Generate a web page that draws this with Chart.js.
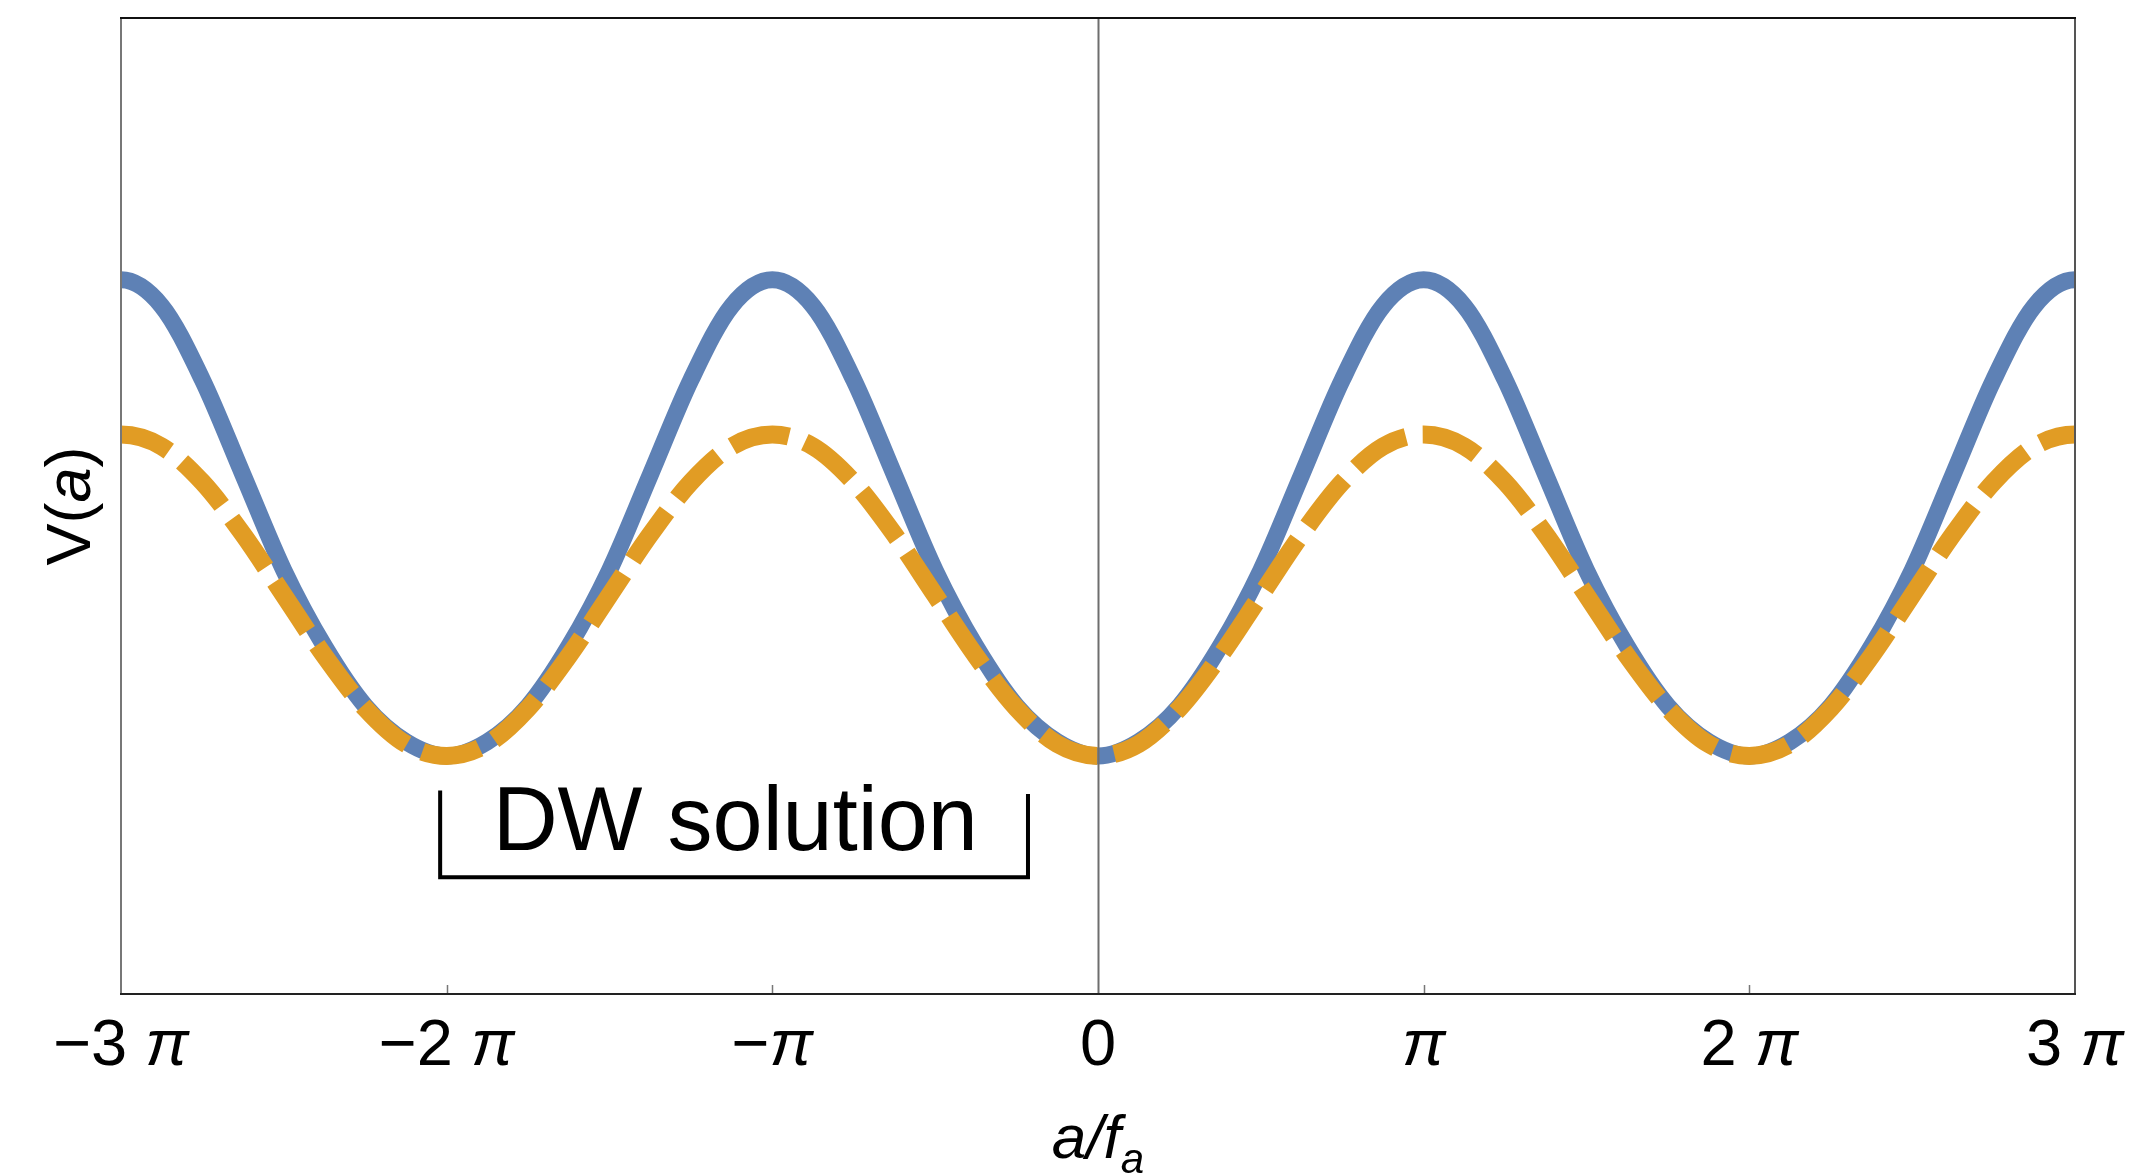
<!DOCTYPE html>
<html>
<head>
<meta charset="utf-8">
<script src="https://cdn.jsdelivr.net/npm/chart.js@4.4.1/dist/chart.umd.min.js"></script>
<style>
  html, body { margin: 0; padding: 0; background: #fff; }
  canvas { display: block; }
</style>
</head>
<body>
<canvas id="chart" width="2152" height="1174"></canvas>
<script>
// x positions in units of pi (one step past each edge so the ends stay flat, clipped away)
const xPi = [-3.125, -3, -2.875, -2.75, -2.625, -2.5, -2.375, -2.25, -2.125,
  -2, -1.875, -1.75, -1.625, -1.5, -1.375, -1.25, -1.125,
  -1, -0.875, -0.75, -0.625, -0.5, -0.375, -0.25, -0.125,
  0, 0.125, 0.25, 0.375, 0.5, 0.625, 0.75, 0.875,
  1, 1.125, 1.25, 1.375, 1.5, 1.625, 1.75, 1.875,
  2, 2.125, 2.25, 2.375, 2.5, 2.625, 2.75, 2.875, 3, 3.125];

// full potential (solid blue)
const vFull = [1.89, 2.0, 1.89, 1.58, 1.18, 0.78, 0.46, 0.21, 0.06,
  0, 0.06, 0.21, 0.46, 0.78, 1.18, 1.58, 1.89,
  2.0, 1.89, 1.58, 1.18, 0.78, 0.46, 0.21, 0.06,
  0, 0.06, 0.21, 0.46, 0.78, 1.18, 1.58, 1.89,
  2.0, 1.89, 1.58, 1.18, 0.78, 0.46, 0.21, 0.06,
  0, 0.06, 0.21, 0.46, 0.78, 1.18, 1.58, 1.89, 2.0, 1.89];

// approximate potential (dashed orange)
const vApprox = [1.30, 1.35, 1.30, 1.15, 0.93, 0.675, 0.42, 0.20, 0.05,
  0, 0.05, 0.20, 0.42, 0.675, 0.93, 1.15, 1.30,
  1.35, 1.30, 1.15, 0.93, 0.675, 0.42, 0.20, 0.05,
  0, 0.05, 0.20, 0.42, 0.675, 0.93, 1.15, 1.30,
  1.35, 1.30, 1.15, 0.93, 0.675, 0.42, 0.20, 0.05,
  0, 0.05, 0.20, 0.42, 0.675, 0.93, 1.15, 1.30, 1.35, 1.30];

const tickPi = [-3, -2, -1, 0, 1, 2, 3];
const tickLabels = ['\u22123 \u03c0', '\u22122 \u03c0', '\u2212\u03c0', '0', '\u03c0', '2 \u03c0', '3 \u03c0'];

const PI = Math.PI;
const FONT = '"Liberation Sans", Arial, Helvetica, sans-serif';

function pts(ys) {
  return xPi.map((x, i) => ({ x: x * PI, y: ys[i] }));
}

// draw text made of runs; pi and variables in italic
function runWidth(ctx, r) {
  ctx.font = (r.italic ? 'italic ' : '') + r.size + 'px ' + FONT;
  return ctx.measureText(r.text).width;
}
function drawRuns(ctx, runs, cx, y) {
  let total = 0;
  runs.forEach(r => { total += runWidth(ctx, r); });
  let x = cx - total / 2;
  ctx.textAlign = 'left';
  ctx.textBaseline = 'alphabetic';
  runs.forEach(r => {
    const w = runWidth(ctx, r);
    ctx.fillText(r.text, x, y + (r.dy || 0));
    x += w;
  });
}
function splitPi(label, size) {
  const runs = [];
  label.split(/(\u03c0)/).forEach(p => {
    if (p === '') return;
    runs.push({ text: p, italic: p === '\u03c0', size: size });
  });
  return runs;
}

const framePlugin = {
  id: 'frame',
  afterDatasetsDraw(chart) {
    const ctx = chart.ctx;
    const a = chart.chartArea;
    const xs = chart.scales.x;
    const ys = chart.scales.y;
    ctx.save();

    // zero line
    const x0 = Math.round(xs.getPixelForValue(0)) + 0.5;
    ctx.strokeStyle = '#6e6e6e';
    ctx.lineWidth = 2;
    ctx.beginPath();
    ctx.moveTo(x0, a.top);
    ctx.lineTo(x0, a.bottom);
    ctx.stroke();

    // small inner ticks
    ctx.strokeStyle = '#777';
    ctx.lineWidth = 1.5;
    tickPi.forEach(t => {
      if (t === -3 || t === 3 || t === 0) return;
      const px = Math.round(xs.getPixelForValue(t * PI)) + 0.5;
      ctx.beginPath();
      ctx.moveTo(px, a.bottom);
      ctx.lineTo(px, a.bottom - 9);
      ctx.stroke();
    });

    // frame
    ctx.lineWidth = 2;
    ctx.strokeStyle = '#777';
    ctx.beginPath();
    ctx.moveTo(a.left, a.top); ctx.lineTo(a.left, a.bottom);
    ctx.stroke();
    ctx.strokeStyle = '#555';
    ctx.beginPath();
    ctx.moveTo(a.right, a.top); ctx.lineTo(a.right, a.bottom);
    ctx.stroke();
    ctx.strokeStyle = '#111';
    ctx.beginPath();
    ctx.moveTo(a.left - 1, a.top); ctx.lineTo(a.right + 1, a.top);
    ctx.stroke();
    ctx.strokeStyle = '#222';
    ctx.beginPath();
    ctx.moveTo(a.left - 1, a.bottom); ctx.lineTo(a.right + 1, a.bottom);
    ctx.stroke();

    // tick labels
    ctx.fillStyle = '#000';
    tickPi.forEach((t, i) => {
      drawRuns(ctx, splitPi(tickLabels[i], 65), xs.getPixelForValue(t * PI), a.bottom + 71);
    });

    // x axis title a/f_a
    drawRuns(ctx, [
      { text: 'a/f', italic: true, size: 62 },
      { text: 'a', italic: true, size: 42, dy: 15 }
    ], (a.left + a.right) / 2, a.bottom + 164);

    // y axis title V(a)
    ctx.save();
    ctx.translate(90, (a.top + a.bottom) / 2);
    ctx.rotate(-PI / 2);
    drawRuns(ctx, [
      { text: 'V', italic: false, size: 63 },
      { text: '(', italic: false, size: 63 },
      { text: 'a', italic: true, size: 63 },
      { text: ')', italic: false, size: 63 }
    ], 0, 0);
    ctx.restore();

    // DW solution bracket
    const bl = xs.getPixelForValue(-2.02 * PI);
    const br = xs.getPixelForValue(-0.215 * PI);
    const bTopL = ys.getPixelForValue(-0.145);
    const bTopR = ys.getPixelForValue(-0.16);
    const bBot = ys.getPixelForValue(-0.51);
    ctx.strokeStyle = '#000';
    ctx.lineWidth = 4;
    ctx.lineCap = 'butt';
    ctx.beginPath();
    ctx.moveTo(bl, bTopL);
    ctx.lineTo(bl, bBot);
    ctx.lineTo(br, bBot);
    ctx.lineTo(br, bTopR);
    ctx.stroke();
    ctx.font = '90px ' + FONT;
    ctx.textAlign = 'center';
    ctx.textBaseline = 'alphabetic';
    ctx.fillText('DW solution', xs.getPixelForValue(-1.114 * PI), ys.getPixelForValue(-0.395));

    ctx.restore();
  }
};

const config = {
  type: 'line',
  data: {
    datasets: [
      {
        label: 'approx',
        data: pts(vApprox),
        borderColor: '#E19C24',
        borderWidth: 18,
        borderDash: [59, 17],
        borderDashOffset: 41,
        borderCapStyle: 'butt',
        pointRadius: 0,
        fill: false,
        cubicInterpolationMode: 'monotone',
        clip: 0,
        order: 1
      },
      {
        label: 'full',
        data: pts(vFull),
        borderColor: '#5E81B5',
        borderWidth: 17,
        pointRadius: 0,
        fill: false,
        cubicInterpolationMode: 'monotone',
        clip: 0,
        order: 2
      }
    ]
  },
  options: {
    responsive: false,
    devicePixelRatio: 1,
    animation: false,
    layout: { padding: { top: 18, right: 77, left: 0, bottom: 0 } },
    plugins: {
      legend: { display: false },
      tooltip: { enabled: false }
    },
    scales: {
      x: {
        type: 'linear',
        min: -3 * PI,
        max: 3 * PI,
        grid: { display: false },
        border: { display: false },
        ticks: { display: false },
        afterFit: s => { s.height = 180; }
      },
      y: {
        min: -1.0,
        max: 3.1,
        grid: { display: false },
        border: { display: false },
        ticks: { display: false },
        afterFit: s => { s.width = 121; }
      }
    }
  },
  plugins: [framePlugin]
};

new Chart(document.getElementById('chart').getContext('2d'), config);
</script>
</body>
</html>
